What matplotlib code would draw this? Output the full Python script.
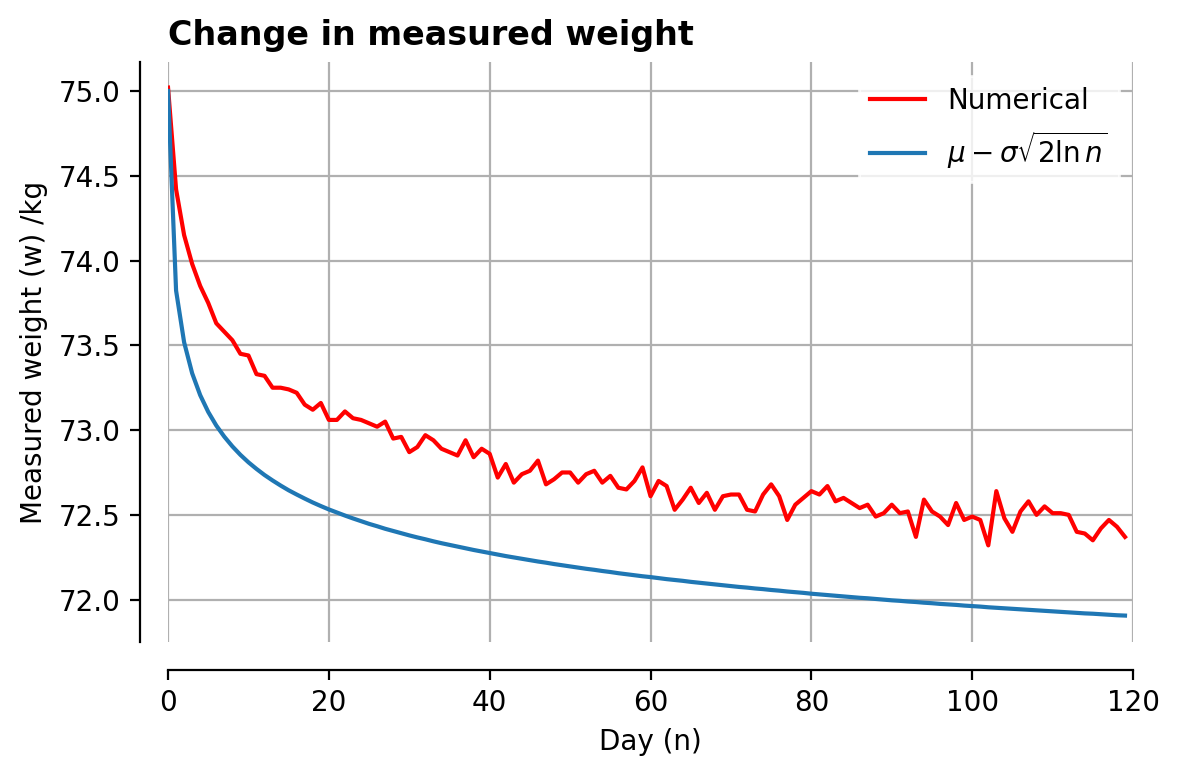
import matplotlib
matplotlib.use("Agg")
import matplotlib.pyplot as plt
import numpy as np

# day index n
days = list(range(120))

# numerical (simulated) minimum measured weight
numerical = [
    75.02, 74.42, 74.15, 73.98, 73.85, 73.75, 73.63, 73.58, 73.53, 73.45,
    73.44, 73.33, 73.32, 73.25, 73.25, 73.24, 73.22, 73.15, 73.12, 73.16,
    73.06, 73.06, 73.11, 73.07, 73.06, 73.04, 73.02, 73.05, 72.95, 72.96,
    72.87, 72.90, 72.97, 72.94, 72.89, 72.87, 72.85, 72.94, 72.84, 72.89,
    72.86, 72.72, 72.80, 72.69, 72.74, 72.76, 72.82, 72.68, 72.71, 72.75,
    72.75, 72.69, 72.74, 72.76, 72.69, 72.73, 72.66, 72.65, 72.70, 72.78,
    72.61, 72.70, 72.67, 72.53, 72.59, 72.66, 72.57, 72.63, 72.53, 72.61,
    72.62, 72.62, 72.53, 72.52, 72.62, 72.68, 72.61, 72.47, 72.56, 72.60,
    72.64, 72.62, 72.67, 72.58, 72.60, 72.57, 72.54, 72.56, 72.49, 72.51,
    72.56, 72.51, 72.52, 72.37, 72.59, 72.52, 72.49, 72.44, 72.57, 72.47,
    72.49, 72.47, 72.32, 72.64, 72.48, 72.40, 72.52, 72.58, 72.50, 72.55,
    72.51, 72.51, 72.50, 72.40, 72.39, 72.35, 72.42, 72.47, 72.43, 72.37,
]

# analytic curve mu - sigma*sqrt(2 ln n), values as plotted
analytic = [
    75.000, 73.823, 73.518, 73.335, 73.206, 73.107, 73.027, 72.961, 72.904, 72.854,
    72.810, 72.771, 72.735, 72.703, 72.673, 72.645, 72.620, 72.596, 72.573, 72.552,
    72.532, 72.514, 72.496, 72.479, 72.463, 72.447, 72.433, 72.418, 72.405, 72.392,
    72.379, 72.367, 72.356, 72.344, 72.333, 72.323, 72.313, 72.303, 72.293, 72.284,
    72.275, 72.266, 72.257, 72.249, 72.241, 72.233, 72.225, 72.218, 72.210, 72.203,
    72.196, 72.189, 72.182, 72.176, 72.169, 72.163, 72.156, 72.150, 72.144, 72.138,
    72.133, 72.127, 72.121, 72.116, 72.111, 72.105, 72.100, 72.095, 72.090, 72.085,
    72.080, 72.075, 72.071, 72.066, 72.062, 72.057, 72.053, 72.048, 72.044, 72.040,
    72.035, 72.031, 72.027, 72.023, 72.019, 72.015, 72.011, 72.008, 72.004, 72.000,
    71.996, 71.993, 71.989, 71.986, 71.982, 71.979, 71.975, 71.972, 71.969, 71.965,
    71.962, 71.959, 71.955, 71.952, 71.949, 71.946, 71.943, 71.940, 71.937, 71.934,
    71.931, 71.928, 71.925, 71.922, 71.919, 71.917, 71.914, 71.911, 71.908, 71.906,
]

fig = plt.figure(figsize=(5.9, 3.885), dpi=200)
ax = fig.add_axes([0.1424, 0.1737, 0.8178, 0.7463])

ax.plot(days, numerical, color="red", lw=1.5, label="Numerical")
ax.plot(days, analytic, color="#1f77b4", lw=1.5, label=r"$\mu-\sigma\sqrt{2\ln n}$")

ax.set_xlim(0, 120)
ax.set_ylim(71.75, 75.17)
ax.set_xticks(np.arange(0, 121, 20))
ax.set_yticks(np.arange(72.0, 75.01, 0.5))
ax.grid(True, color="#b0b0b0", lw=0.8)

ax.spines["top"].set_visible(False)
ax.spines["right"].set_visible(False)
ax.spines["left"].set_position(("outward", 10))
ax.spines["bottom"].set_position(("outward", 10))

ax.set_xlabel("Day (n)")
ax.set_ylabel("Measured weight (w) /kg")
ax.set_title("Change in measured weight", loc="left", fontweight="bold", fontsize=12)

leg = ax.legend(loc="upper right", framealpha=0.8, fancybox=False)
leg.get_frame().set_edgecolor("white")

fig.savefig("out.png", dpi=200)
